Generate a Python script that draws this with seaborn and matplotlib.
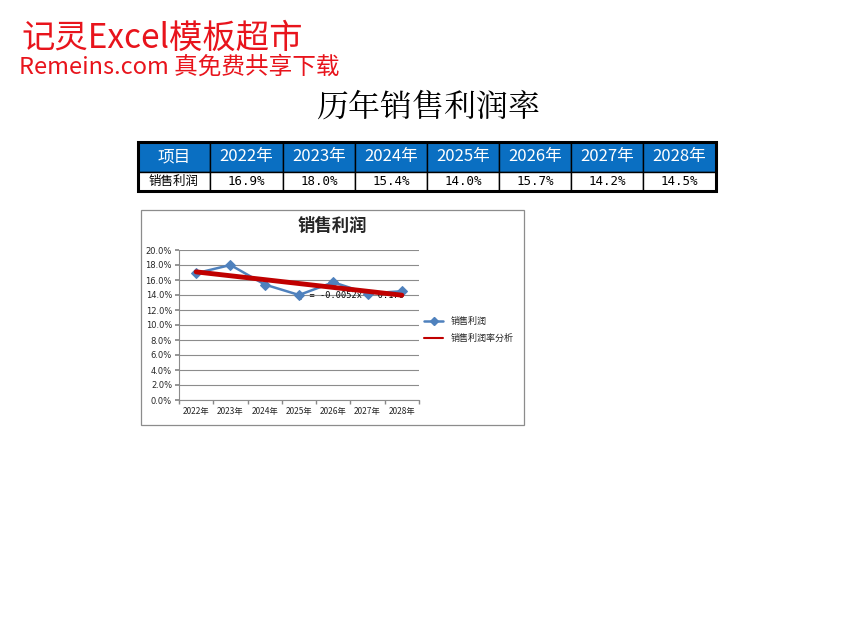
import numpy as np
import pandas as pd
import matplotlib
matplotlib.use("Agg")
import matplotlib.pyplot as plt
from matplotlib.patches import Rectangle
from matplotlib.lines import Line2D
import seaborn as sns

years = ["2022年", "2023年", "2024年", "2025年", "2026年", "2027年", "2028年"]
profit = [0.169, 0.180, 0.154, 0.140, 0.157, 0.142, 0.145]
series_name = "销售利润"
trend_name = "销售利润率分析"
table_head = "项目"
table_row = "销售利润"
main_title = "历年销售利润率"
chart_title = "销售利润"
yticks = [0.0, 0.02, 0.04, 0.06, 0.08, 0.10, 0.12, 0.14, 0.16, 0.18, 0.20]

sns.set_theme(style="white")
plt.rcParams['font.family'] = ['Noto Sans CJK SC', 'DejaVu Sans']

W, H = 856, 626
fig = plt.figure(figsize=(W / 100, H / 100), dpi=100)

def fx(x):
    return x / W

def fy(y):
    return 1 - y / H

# watermark
fig.text(fx(21), fy(38), "记灵Excel模板超市", color="#E8141C", fontsize=24, va="center", ha="left")
fig.text(fx(19), fy(67), "Remeins.com 真免费共享下载", color="#E8141C", fontsize=17, va="center", ha="left")

# main title
fig.text(fx(428), fy(108), main_title, color="black", fontsize=23, va="center", ha="center",
         family=['Noto Serif CJK SC', 'Noto Sans CJK SC', 'DejaVu Sans'])

# table
col_edges = [138, 210, 283, 355, 427, 499, 571, 643, 716]
top, mid, bot = 142, 172, 191
for i in range(len(col_edges) - 1):
    x0, x1 = col_edges[i], col_edges[i + 1]
    fig.patches.append(Rectangle((fx(x0), fy(mid)), fx(x1 - x0), (mid - top) / H,
                                 transform=fig.transFigure, facecolor="#0A6FC2",
                                 edgecolor="black", linewidth=1.0))
    fig.patches.append(Rectangle((fx(x0), fy(bot)), fx(x1 - x0), (bot - mid) / H,
                                 transform=fig.transFigure, facecolor="white",
                                 edgecolor="black", linewidth=1.0))
    cx = (x0 + x1) / 2
    head = table_head if i == 0 else years[i - 1]
    fig.text(fx(cx), fy((top + mid) / 2), head, color="white", fontsize=12,
             ha="center", va="center", fontweight="medium")
    val = table_row if i == 0 else f"{profit[i - 1] * 100:.1f}%"
    fig.text(fx(cx), fy((mid + bot) / 2), val, color="black", fontsize=9,
             ha="center", va="center",
             family=['DejaVu Sans Mono', 'Noto Sans CJK SC'] if i > 0 else ['Noto Sans CJK SC'])
fig.patches.append(Rectangle((fx(138), fy(bot)), fx(716 - 138), (bot - top) / H,
                             transform=fig.transFigure, facecolor="none",
                             edgecolor="black", linewidth=2.2))

# chart frame
fig.patches.append(Rectangle((fx(141), fy(425)), fx(524 - 141), (425 - 210) / H,
                             transform=fig.transFigure, facecolor="white",
                             edgecolor="#8C8C8C", linewidth=0.9, zorder=0))
fig.text(fx(332), fy(226), chart_title, fontsize=12.5, fontweight="bold",
         ha="center", va="center")

ax = fig.add_axes([fx(179), fy(400), fx(419 - 179), (400 - 250) / H])
ax.set_zorder(3)
df = pd.DataFrame({"year": years, "x": np.arange(len(years)), "profit": profit})
sns.lineplot(data=df, x="x", y="profit", ax=ax, color="#4F81BD", linewidth=1.8,
             marker="D", markersize=5, markeredgecolor="#4F81BD", zorder=3)

# linear trend from data
coef = np.polyfit(np.arange(1, len(profit) + 1), profit, 1)
xt = np.arange(len(profit))
trend = np.polyval(coef, xt + 1)
sns.lineplot(x=xt, y=trend, ax=ax, color="#C00000", linewidth=3.5, zorder=4)
ax.text(3.0, 0.1395, f"y = {coef[0]:.4f}x + {coef[1]:.3f}", fontsize=6.2,
        ha="left", va="center", color="black", zorder=2,
        family=['DejaVu Sans Mono'])

ax.set_xlim(-0.5, len(years) - 0.5)
ax.set_ylim(0, 0.20)
ax.set_yticks(yticks)
ax.set_yticklabels([f"{v * 100:.1f}%" for v in yticks], fontsize=6,
                   family=['DejaVu Sans'])
ax.set_xticks(np.arange(len(years)))
ax.set_xticklabels(years, fontsize=6)
ax.set_xticks(np.arange(-0.5, len(years)), minor=True)
ax.tick_params(axis="x", which="major", length=0, pad=5)
ax.tick_params(axis="x", which="minor", length=3, color="#888888", direction="out", bottom=True)
ax.tick_params(axis="y", length=3, color="#888888", direction="out", pad=2, left=True)
ax.set_xlabel("")
ax.set_ylabel("")
ax.grid(axis="y", color="#8C8C8C", linewidth=0.8)
ax.grid(axis="x", visible=False)
for s in ["top", "right"]:
    ax.spines[s].set_visible(False)
for s in ["left", "bottom"]:
    ax.spines[s].set_color("#8C8C8C")
    ax.spines[s].set_linewidth(0.8)
ax.set_facecolor("none")

handles = [Line2D([0], [0], color="#4F81BD", marker="D", markersize=4, linewidth=1.8),
           Line2D([0], [0], color="#C00000", linewidth=1.5)]
fig.legend(handles, [series_name, trend_name], loc="center left",
           bbox_to_anchor=(fx(420), fy(330)), frameon=False, fontsize=6.5,
           handlelength=2.2, labelspacing=0.9, borderaxespad=0)

fig.savefig("out.png", dpi=100)
